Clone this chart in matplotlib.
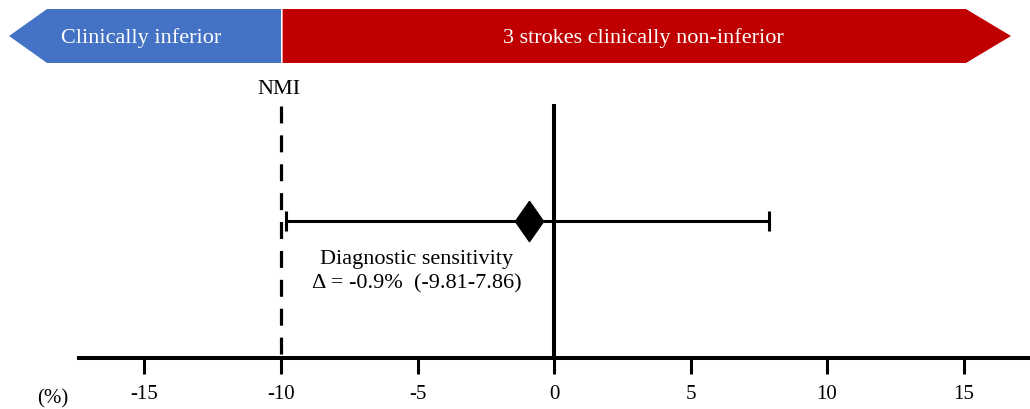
import matplotlib
matplotlib.use("Agg")
import matplotlib.pyplot as plt
from matplotlib.patches import Polygon

# data
estimate = -0.9
ci_low = -9.81
ci_high = 7.86
nmi = -10
ticks = [-15, -10, -5, 0, 5, 10, 15]
row_y = 222  # vertical position of the estimate row (pixel-like units)

plt.rcParams['font.family'] = ['Liberation Serif', 'DejaVu Serif']
plt.rcParams['axes.unicode_minus'] = False
plt.rcParams['lines.scale_dashes'] = False

fig = plt.figure(figsize=(10.3, 4.1), dpi=100)
ax = fig.add_axes([0, 0, 1, 1])
# x in percent, y in pixel-like units from the top
ax.set_xlim(-554 / 27.3, 476 / 27.3)
ax.set_ylim(410, 0)

# axis line with ticks
for s in ['top', 'left', 'right']:
    ax.spines[s].set_visible(False)
ax.spines['bottom'].set_position(('data', 359))
ax.spines['bottom'].set_bounds(-17.4, 17.5)
ax.spines['bottom'].set_linewidth(2.9)
ax.set_yticks([])
ax.set_xticks(ticks)
ax.set_xticklabels([str(t) for t in ticks])
ax.tick_params(axis='x', direction='out', length=11.5, width=2.2, pad=7.5,
               labelsize=15, colors='black')
ax.text(-18.35, 403, '(%)', fontsize=15, ha='center', va='baseline')

# zero line and non-inferiority margin
ax.vlines(0, 105, 359, color='black', lw=2.9)
ax.plot([nmi, nmi], [107, 359], color='black', lw=2.3, dashes=[12.2, 8.6])
ax.text(nmi - 0.07, 90, 'NMI', fontsize=16, ha='center', va='center')

# banners
blue = Polygon([(-19.96, 37), (-18.57, 10), (nmi, 10), (nmi, 64), (-18.57, 64)],
               closed=True, facecolor='#4472C4', edgecolor='none')
red = Polygon([(nmi + 0.06, 10), (15.09, 10), (16.74, 37), (15.09, 64), (nmi + 0.06, 64)],
              closed=True, facecolor='#C00000', edgecolor='none')
ax.add_patch(blue)
ax.add_patch(red)
ax.text(-15.13, 38, 'Clinically inferior', color='white', fontsize=16,
        ha='center', va='center')
ax.text(3.26, 38, '3 strokes clinically non-inferior', color='white', fontsize=16,
        ha='center', va='center')

# estimate with confidence interval
ax.errorbar(estimate, row_y, xerr=[[estimate - ci_low], [ci_high - estimate]],
            fmt='none', ecolor='black', elinewidth=2.2, capsize=7.2, capthick=2.2)
diamond = [(0, 1), (0.7, 0), (0, -1), (-0.7, 0), (0, 1)]
ax.plot(estimate, row_y, marker=diamond, markersize=29, color='black', zorder=5)

ax.text(-5.02, 264, 'Diagnostic sensitivity', fontsize=16, ha='center', va='baseline')
ax.text(-5.02, 288, f'Δ = {estimate}%  ({ci_low}-{ci_high})', fontsize=16,
        ha='center', va='baseline')

fig.savefig('out.png', dpi=100)
